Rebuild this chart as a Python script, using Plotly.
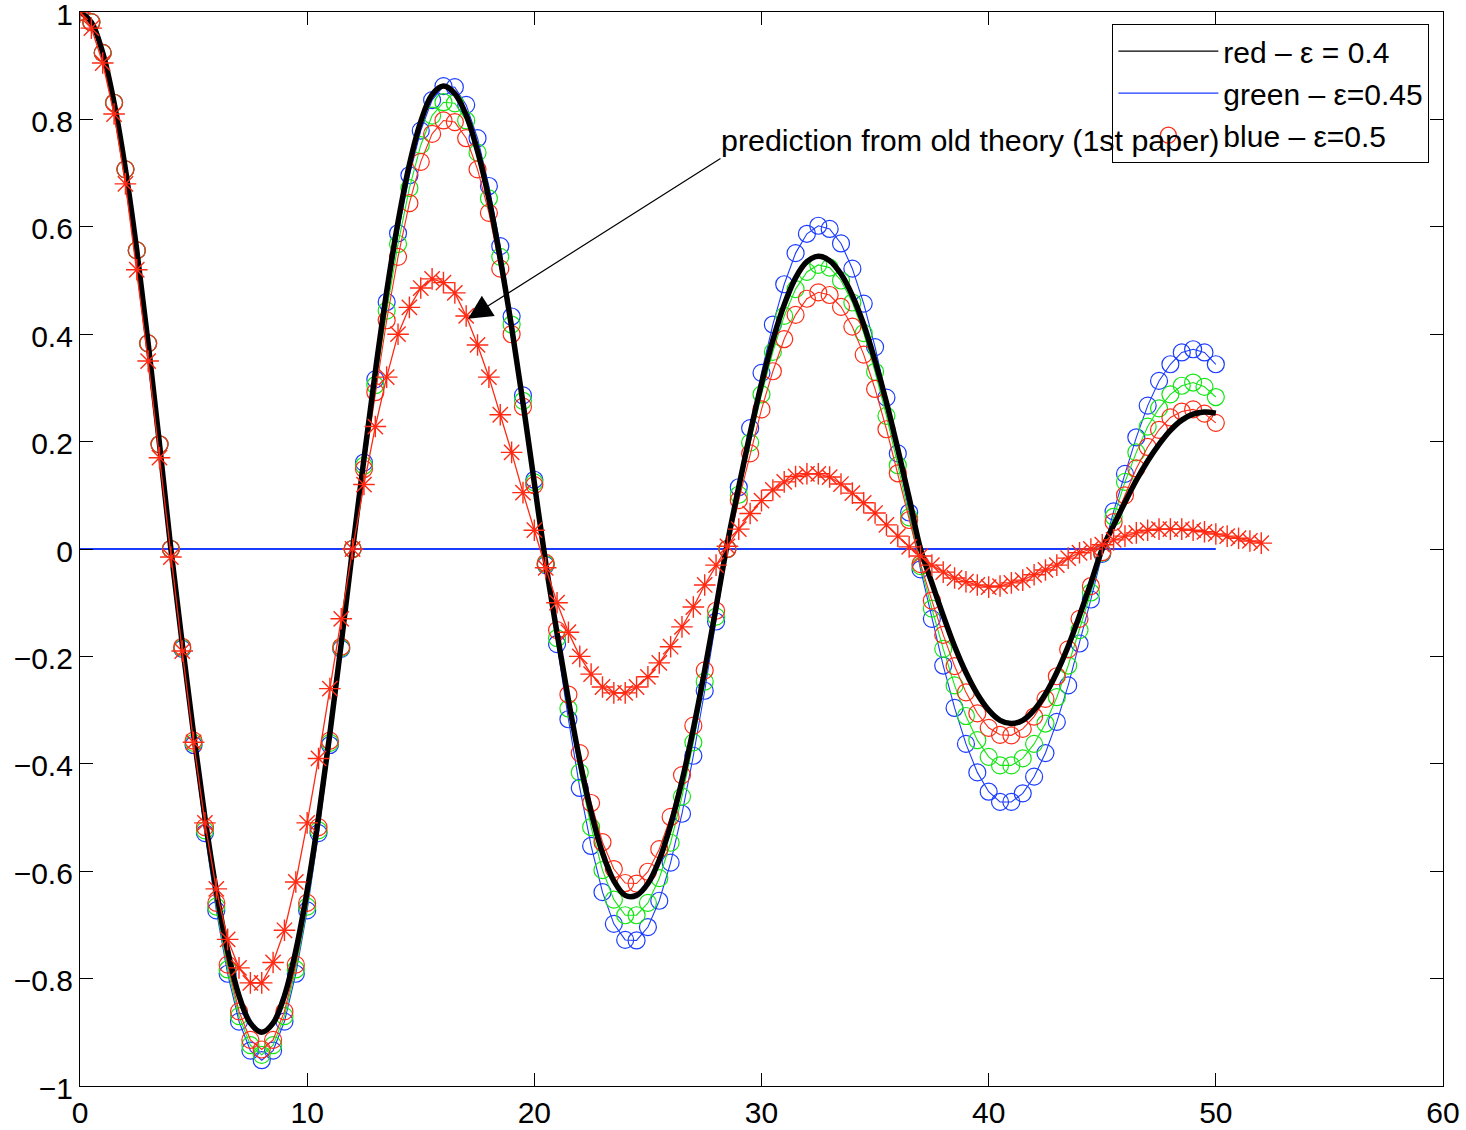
import plotly.graph_objects as go

# sampling grids
x_circ = [i * 0.5 for i in range(101)]   # 0 .. 50
x_star = [i * 0.5 for i in range(105)]   # 0 .. 52

x_ticks = [0, 10, 20, 30, 40, 50, 60]
y_ticks = [-1, -0.8, -0.6, -0.4, -0.2, 0, 0.2, 0.4, 0.6, 0.8, 1]

black_y = [1.0, .981, .924, .831, .707, .556, .383, .195, 0.0,
           -.176, -.344, -.500, -.636, -.748, -.832, -.883, -.900, -.883, -.832, -.748, -.636, -.500, -.344, -.176, 0.0,
           .168, .330, .479, .609, .716, .796, .846, .862,
           .848, .808, .741, .652, .540, .413, .272, .123,
           -.026, -.157, -.281, -.394, -.490, -.566, -.618, -.645,
           -.645, -.623, -.579, -.514, -.432, -.335, -.226, -.108,
           .011, .116, .216, .308, .389, .455, .505, .535, .545,
           .537, .512, .472, .418, .350, .273, .186, .095, 0.0,
           -.063, -.124, -.181, -.230, -.270, -.300, -.319, -.325,
           -.319, -.300, -.270, -.230, -.181, -.124, -.063, 0.0,
           .044, .087, .128, .164, .195, .221, .240, .251, .255, .253]

blue_y = [1.0, .981, .924, .831, .707, .556, .383, .195, 0.0,
          -.186, -.365, -.529, -.673, -.791, -.880, -.934, -.952, -.934, -.880, -.791, -.673, -.529, -.365, -.186, 0.0,
          .161, .316, .460, .588, .696, .779, .836, .862,
          .860, .827, .765, .676, .564, .433, .286, .129,
          -.030, -.177, -.317, -.445, -.553, -.639, -.698, -.728,
          -.729, -.704, -.655, -.584, -.493, -.385, -.264, -.135, 0.0,
          .115, .225, .328, .418, .493, .551, .587, .602,
          .596, .569, .522, .457, .376, .282, .178, .068,
          -.038, -.130, -.217, -.296, -.363, -.416, -.452, -.471,
          -.471, -.455, -.424, -.380, -.322, -.254, -.176, -.094, -.009,
          .07, .14, .208, .267, .313, .344, .366, .372, .366, .344]

green_y = [1.0, .981, .924, .831, .707, .556, .383, .195, 0.0,
           -.184, -.361, -.524, -.666, -.783, -.870, -.924, -.942, -.924, -.870, -.783, -.666, -.524, -.361, -.184, 0.0,
           .155, .305, .444, .568, .672, .752, .807, .832,
           .830, .798, .738, .653, .544, .418, .276, .124,
           -.028, -.166, -.297, -.416, -.518, -.598, -.653, -.682,
           -.682, -.659, -.613, -.547, -.461, -.360, -.247, -.126, 0.0,
           .101, .198, .288, .367, .434, .484, .516, .529,
           .524, .500, .459, .402, .330, .248, .156, .059,
           -.032, -.111, -.186, -.254, -.311, -.356, -.387, -.403,
           -.403, -.390, -.363, -.325, -.276, -.217, -.151, -.081, -.007,
           .06, .125, .18, .228, .262, .288, .304, .31, .302, .283]

red_y = [1.0, .981, .924, .831, .707, .556, .383, .195, 0.0,
         -.182, -.357, -.518, -.659, -.774, -.861, -.914, -.932, -.914, -.861, -.774, -.659, -.518, -.357, -.182, 0.0,
         .149, .292, .426, .544, .644, .721, .773, .798,
         .795, .765, .707, .626, .522, .400, .265, .119,
         -.026, -.151, -.271, -.380, -.473, -.546, -.596, -.622,
         -.623, -.601, -.559, -.499, -.421, -.329, -.226, -.115, 0.0,
         .091, .178, .260, .331, .391, .436, .466, .478,
         .473, .451, .414, .362, .298, .223, .141, .054,
         -.028, -.096, -.160, -.218, -.267, -.306, -.333, -.346,
         -.347, -.335, -.312, -.279, -.237, -.187, -.130, -.069, -.006,
         .05, .10, .15, .19, .222, .245, .256, .26, .252, .235]

old_theory_y = [1.0, .97, .905, .81, .68, .52, .35, .17, -.015, -.19,
                -.36, -.51, -.633, -.727, -.78, -.808, -.808, -.77, -.71, -.62,
                -.51, -.39, -.26, -.13, 0.0, .12, .228, .32, .40, .45,
                .486, .503, .496, .477, .434, .38, .32, .25, .18, .105,
                .035, -.035, -.10, -.155, -.20, -.233, -.257, -.268, -.268, -.257,
                -.238, -.212, -.182, -.145, -.108, -.067, -.03, .005, .037, .066,
                .09, .11, .125, .135, .14, .14, .134, .121, .104, .086,
                .067, .045, .024, .004, -.013, -.030, -.043, -.054, -.061, -.067,
                -.071, -.069, -.063, -.058, -.048, -.039, -.03, -.017, -.007, 0.0,
                .008, .017, .024, .030, .035, .037, .037, .037, .035, .032,
                .028, .024, .020, .015, .011]

zero_x = [0, 50]
zero_y = [0, 0]

legend_names = ["red \u2013 \u03b5 = 0.4", "green \u2013 \u03b5=0.45", "blue \u2013 \u03b5=0.5"]
annotation_text = "prediction from old theory (1st paper)"

BLUE = "#1a3cff"
GREEN = "#14e614"
RED = "#ff2a14"
FONT = "Liberation Sans, Arial, Helvetica, sans-serif"
FS = 30

fig = go.Figure()

fig.add_trace(go.Scatter(x=zero_x, y=zero_y, mode="lines",
                         line=dict(color=BLUE, width=2), showlegend=False))
for ys, col in [(blue_y, BLUE), (green_y, GREEN), (red_y, RED)]:
    fig.add_trace(go.Scatter(x=x_circ, y=ys, mode="lines+markers",
                             line=dict(color=col, width=1.1),
                             marker=dict(symbol="circle-open", size=17, color=col,
                                         line=dict(color=col, width=1.2)),
                             showlegend=False))
fig.add_trace(go.Scatter(x=x_circ, y=black_y, mode="lines", line_shape="spline",
                         line=dict(color="black", width=5.5), showlegend=False))
fig.add_trace(go.Scatter(x=x_star, y=old_theory_y, mode="lines+markers",
                         line=dict(color=RED, width=1.3),
                         marker=dict(symbol="asterisk-open", size=18, color=RED,
                                     line=dict(color=RED, width=1.4)),
                         showlegend=False))

# legend entries (as in the original figure)
fig.add_trace(go.Scatter(x=[None], y=[None], mode="lines", name=legend_names[0],
                         line=dict(color="black", width=1.2)))
fig.add_trace(go.Scatter(x=[None], y=[None], mode="lines", name=legend_names[1],
                         line=dict(color=BLUE, width=1.2)))
fig.add_trace(go.Scatter(x=[None], y=[None], mode="markers", name=legend_names[2],
                         marker=dict(symbol="circle-open", size=17, color=RED,
                                     line=dict(color=RED, width=1.2))))

fig.add_annotation(x=17.08, y=0.429, ax=28.26, ay=0.729, xref="x", yref="y",
                   axref="x", ayref="y", text="", showarrow=True,
                   arrowhead=2, arrowsize=4, arrowwidth=1.2, arrowcolor="black")
fig.add_annotation(x=28.15, y=0.762, xref="x", yref="y", text=annotation_text,
                   showarrow=False, xanchor="left", yanchor="middle",
                   font=dict(family=FONT, size=30.4, color="black"))

axis_common = dict(showline=True, linecolor="black", linewidth=1.2, mirror="ticks",
                   ticks="inside", ticklen=13, tickwidth=1.2, tickcolor="black",
                   showgrid=False, zeroline=False, automargin=False,
                   ticklabeloverflow="allow",
                   tickfont=dict(family=FONT, size=FS, color="black"))

fig.update_layout(
    width=1466, height=1130,
    margin=dict(l=80, r=23, t=12, b=44),
    paper_bgcolor="white", plot_bgcolor="white",
    xaxis=dict(range=[0, 60], tickvals=x_ticks, **axis_common),
    yaxis=dict(range=[-1, 1], tickvals=y_ticks, ticklabelshift=2, **axis_common),
    showlegend=True,
    legend=dict(x=0.7572, y=0.989, xanchor="left", yanchor="top",
                bgcolor="white", bordercolor="black", borderwidth=1.3,
                font=dict(family=FONT, size=FS, color="black"),
                itemwidth=100, tracegroupgap=0),
)

fig.write_html("out.html", config={"displayModeBar": False},
               post_script="document.body.style.margin='0px';document.body.style.overflow='hidden';")
